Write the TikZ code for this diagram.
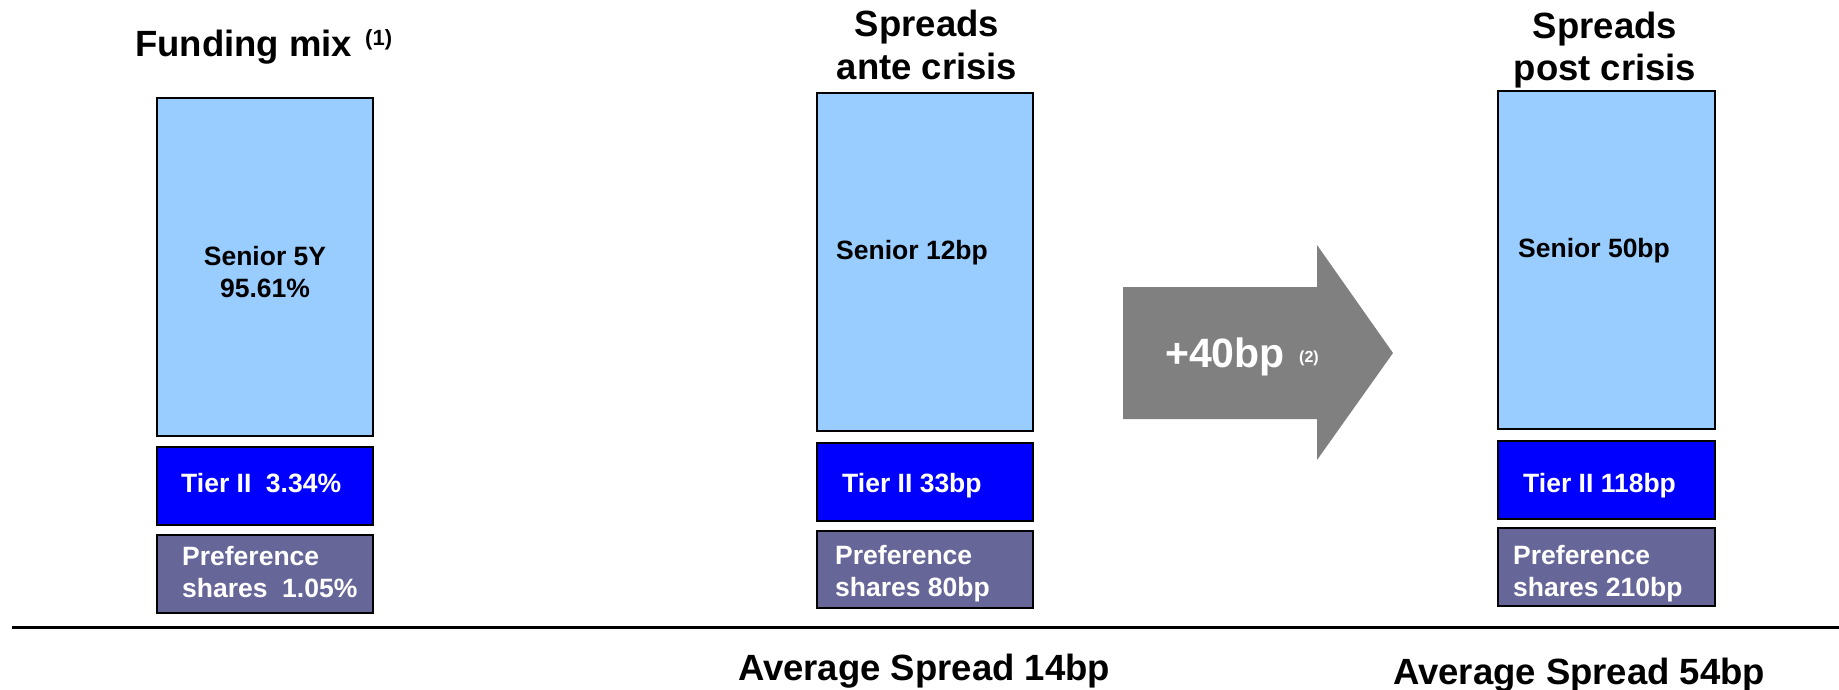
\documentclass[tikz,border=0pt]{standalone}
\usepackage{fontspec}
\setmainfont{Liberation Sans}
\definecolor{seniorc}{HTML}{99CCFF}
\definecolor{tierc}{HTML}{0000FF}
\definecolor{prefc}{HTML}{666699}
\definecolor{arrowc}{HTML}{808080}
\tikzset{
  bx/.style={draw=black, line width=1.5pt, anchor=north west, inner sep=0pt, outer sep=0pt},
  seniorbox/.style={bx, fill=seniorc},
  tierbox/.style={bx, fill=tierc},
  prefbox/.style={bx, fill=prefc},
  bigtxt/.style={font=\fontsize{36.5}{42}\selectfont\bfseries, inner sep=0pt},
  lbl/.style={font=\fontsize{26.5}{32}\selectfont\bfseries, inner sep=0pt, anchor=base west},
  wlbl/.style={lbl, text=white},
  note/.style={inner sep=0pt, anchor=base west, font=\bfseries},
}
\begin{document}
\begin{tikzpicture}[x=1pt,y=-1pt]
\useasboundingbox (0,0) rectangle (1839,690);
% titles
\node[bigtxt, anchor=base west] (t1) at (135,57) {Funding mix};
\node[note, font=\fontsize{22}{26}\selectfont\bfseries] (t1n) at (365,46) {(1)};
\node[bigtxt, anchor=base] (t2a) at (927,37) {Spreads};
\node[bigtxt, anchor=base] (t2b) at (927,80) {ante crisis};
\node[bigtxt, anchor=base] (t3a) at (1605,39) {Spreads};
\node[bigtxt, anchor=base] (t3b) at (1605,81) {post crisis};
% column 1
\node[seniorbox, minimum width=216pt, minimum height=338pt] (s1) at (157,98) {};
\node[tierbox, minimum width=216pt, minimum height=78pt] (r1) at (157,447) {};
\node[prefbox, minimum width=216pt, minimum height=78pt] (p1) at (157,535) {};
\node[lbl, anchor=base] (s1a) at (265,265) {Senior 5Y};
\node[lbl, anchor=base] (s1b) at (265,297) {95.61\%};
\node[wlbl] (r1t) at (181,492) {Tier II\hspace{0.55em}3.34\%};
\node[wlbl] (p1a) at (182,565) {Preference};
\node[wlbl] (p1b) at (182,597) {shares\hspace{0.55em}1.05\%};
% column 2
\node[seniorbox, minimum width=216pt, minimum height=338pt] (s2) at (817,93) {};
\node[tierbox, minimum width=216pt, minimum height=78pt] (r2) at (817,443) {};
\node[prefbox, minimum width=216pt, minimum height=77pt] (p2) at (817,531) {};
\node[lbl] (s2t) at (836,259) {Senior 12bp};
\node[wlbl] (r2t) at (842,492) {Tier II 33bp};
\node[wlbl] (p2a) at (835,564) {Preference};
\node[wlbl] (p2b) at (835,596) {shares 80bp};
% column 3
\node[seniorbox, minimum width=217pt, minimum height=338pt] (s3) at (1498,91) {};
\node[tierbox, minimum width=217pt, minimum height=78pt] (r3) at (1498,441) {};
\node[prefbox, minimum width=217pt, minimum height=78pt] (p3) at (1498,528) {};
\node[lbl] (s3t) at (1518,257) {Senior 50bp};
\node[wlbl] (r3t) at (1523,492) {Tier II 118bp};
\node[wlbl] (p3a) at (1513,564) {Preference};
\node[wlbl] (p3b) at (1513,596) {shares 210bp};
% arrow
\fill[arrowc] (1123,287) -- (1317,287) -- (1317,245) -- (1393,353) -- (1317,460) -- (1317,419) -- (1123,419) -- cycle;
\node[note, text=white, font=\fontsize{41}{46}\selectfont\bfseries] (ar) at (1165,367) {+40bp};
\node[note, text=white, font=\fontsize{16}{18}\selectfont\bfseries] (arn) at (1299,362) {(2)};
% base line
\coordinate (l0) at (12,627);
\coordinate (l1) at (1839,627);
\draw[line width=3pt] (l0) -- (l1);
% averages
\node[bigtxt, anchor=base west] (av1) at (738,680) {Average Spread 14bp};
\node[bigtxt, anchor=base west] (av2) at (1393,684) {Average Spread 54bp};
\end{tikzpicture}
\end{document}
